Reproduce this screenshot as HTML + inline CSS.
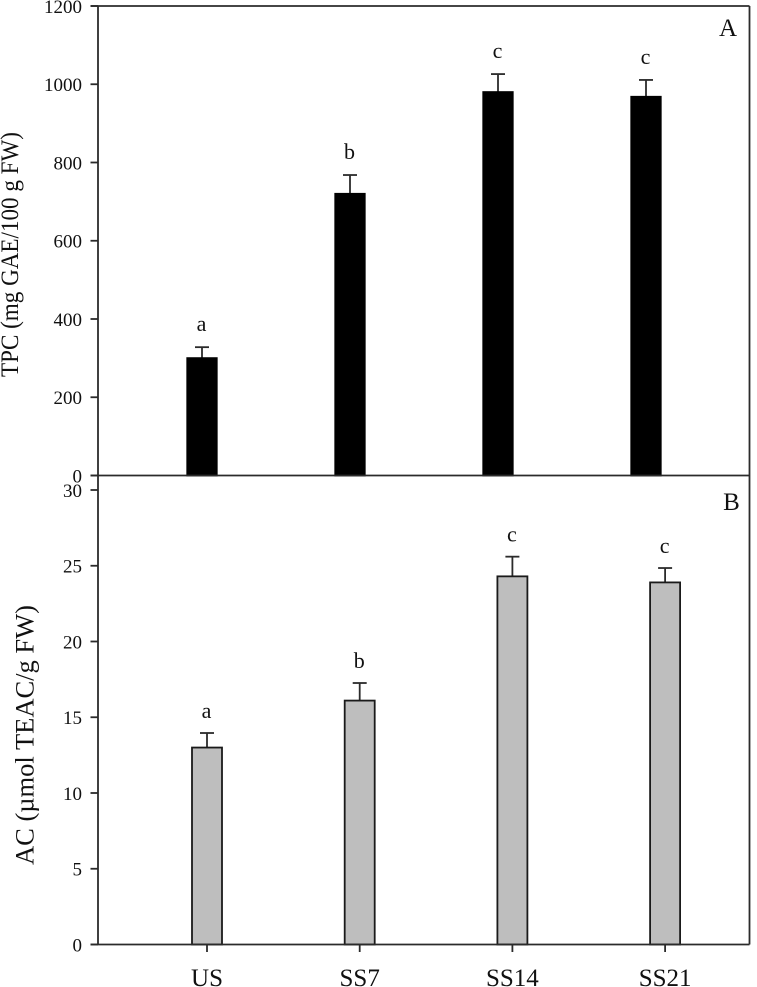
<!DOCTYPE html>
<html lang="en">
<head>
<meta charset="utf-8">
<title>TPC and AC bar charts</title>
<style>
html,body{margin:0;padding:0;background:#fff;width:757px;height:987px;overflow:hidden}
svg{display:block}
text{font-family:"Liberation Serif",serif;fill:#111}
</style>
</head>
<body>
<svg id="chart" xmlns="http://www.w3.org/2000/svg" width="757" height="987" viewBox="0 0 757 987">
  <text transform="translate(18,254.5) rotate(-90)" text-anchor="middle" font-size="25" textLength="245" lengthAdjust="spacingAndGlyphs">TPC (mg GAE/100 g FW)</text>
  <text transform="translate(33.5,735) rotate(-90)" text-anchor="middle" font-size="26" textLength="260" lengthAdjust="spacingAndGlyphs">AC (µmol TEAC/g FW)</text>
  <text x="728" y="36" text-anchor="middle" font-size="25">A</text>
  <text x="731.5" y="510" text-anchor="middle" font-size="25">B</text>
</svg>
<script>
const categories = ['US', 'SS7', 'SS14', 'SS21'];
const tpcValues = [300, 720, 980, 968];
const tpcErrors = [28, 48, 46, 43];
const tpcLetters = ['a', 'b', 'c', 'c'];
const tpcTicks = [0, 200, 400, 600, 800, 1000, 1200];
const acValues = [13, 16.1, 24.3, 23.9];
const acErrors = [0.96, 1.16, 1.3, 0.95];
const acLetters = ['a', 'b', 'c', 'c'];
const acTicks = [0, 5, 10, 15, 20, 25, 30];

const svg = document.getElementById('chart');
const NS = 'http://www.w3.org/2000/svg';
const AX = '#2b2b2b';
const left = 98, right = 749.5;

function mk(tag, attrs, parent) {
  const el = document.createElementNS(NS, tag);
  for (const k in attrs) el.setAttribute(k, attrs[k]);
  (parent || svg).appendChild(el);
  return el;
}
function yScale(domainMax, yBottom, yTop) {
  return v => yBottom - (v / domainMax) * (yBottom - yTop);
}
function xScale(first, step) {
  return i => first + i * step;
}
function line(parent, x1, y1, x2, y2, w, name) {
  const el = mk('line', {x1: x1, y1: y1, x2: x2, y2: y2, stroke: AX, 'stroke-width': w}, parent);
  
  
  return el;
}

function drawPanel(cfg) {
  const g = mk('g', {});
  
  
  const y = yScale(cfg.max, cfg.bottom, cfg.top);
  const x = xScale(cfg.first, cfg.step);

  cfg.values.forEach((v, i) => {
    const cx = x(i);
    const bw = cfg.barWidth;
    const errTop = y(v + cfg.errors[i]);
    line(g, cx, y(v), cx, errTop, 1.8, 'error-bar-' + cfg.key + '-' + categories[i]);
    line(g, cx - 7, errTop, cx + 7, errTop, 1.8, 'error-cap-' + cfg.key + '-' + categories[i]);
    const bar = mk('rect', {x: cx - bw / 2, y: y(v), width: bw, height: cfg.bottom - y(v),
      fill: cfg.fill, stroke: cfg.stroke, 'stroke-width': 1.8}, g);
    
    
    const t = mk('text', {x: cx - 0.5, y: errTop - cfg.letterGap, 'text-anchor': 'middle', 'font-size': 22}, g);
    t.textContent = cfg.letters[i];
    
    
  });

  cfg.ticks.forEach(tv => {
    const ty = y(tv);
    line(g, left - 7.5, ty, left, ty, 1.8, 'y-tick-' + cfg.key + '-' + tv);
    const t = mk('text', {x: 82, y: ty + 6.8, 'text-anchor': 'end', 'font-size': 19}, g);
    t.textContent = tv;
    
    
  });
  line(g, left, cfg.axisTop, left, cfg.bottom, 1.8, 'y-axis-' + cfg.key);
  line(g, left - 7.5, cfg.bottom, right, cfg.bottom, 1.8, 'x-axis-' + cfg.key);
  line(g, right, cfg.axisTop, right, cfg.bottom, 1.8, 'right-border-' + cfg.key);
  return {x: x, g: g};
}

drawPanel({name: 'panel-a-tpc', key: 'tpc', max: 1200, bottom: 475.5, top: 6, axisTop: 6,
  first: 202, step: 148, barWidth: 29.5, fill: '#000', stroke: '#000',
  values: tpcValues, errors: tpcErrors, letters: tpcLetters, ticks: tpcTicks, letterGap: 16});
line(svg, left - 7.5, 6, right, 6, 1.8, 'top-border-tpc');

const panelB = drawPanel({name: 'panel-b-ac', key: 'ac', max: 30, bottom: 944.5, top: 490, axisTop: 475.5,
  first: 207, step: 152.7, barWidth: 30, fill: '#bebebe', stroke: '#1a1a1a',
  values: acValues, errors: acErrors, letters: acLetters, ticks: acTicks, letterGap: 15});

categories.forEach((c, i) => {
  const cx = panelB.x(i);
  line(panelB.g, cx, 944.5, cx, 952, 1.8, 'x-tick-' + c);
  const t = mk('text', {x: cx, y: 986, 'text-anchor': 'middle', 'font-size': 25}, panelB.g);
  t.textContent = c;
  
  
});
</script>
</body>
</html>
